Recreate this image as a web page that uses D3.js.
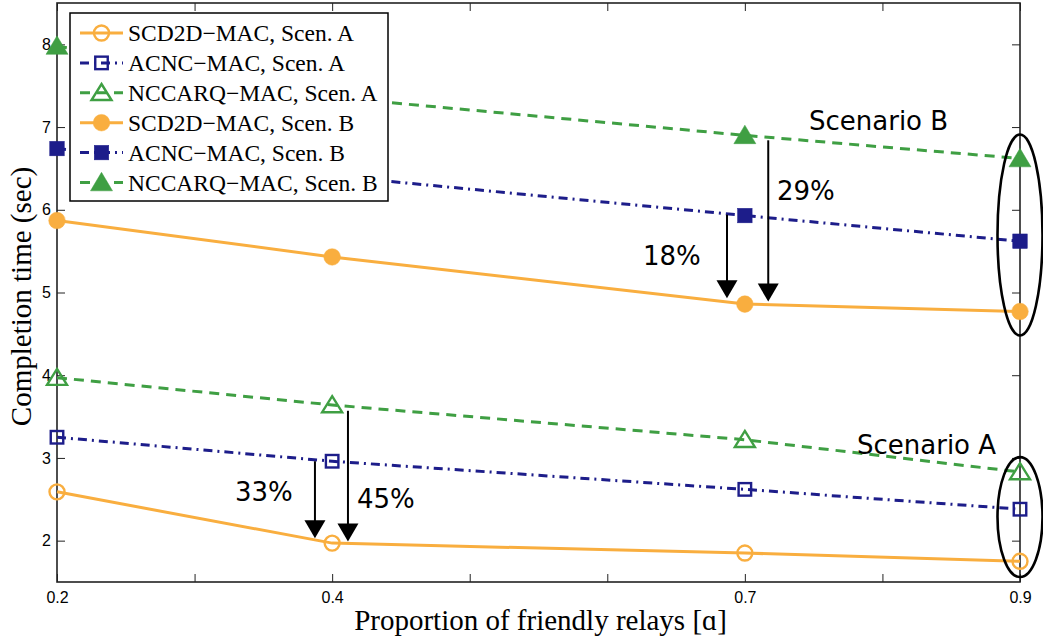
<!DOCTYPE html>
<html>
<head>
<meta charset="utf-8">
<script src="https://cdn.jsdelivr.net/npm/d3@7"></script>
<style>
  html, body { margin: 0; padding: 0; background: #fff; }
  svg { display: block; }
</style>
</head>
<body>
<svg id="chart" width="1043" height="644"></svg>
<script>
// Proportion of friendly relays (x) and completion time in seconds per protocol
const alphas = [0.2, 0.4, 0.7, 0.9];
const scd2dA  = [2.59, 1.97, 1.85, 1.75];
const acncA   = [3.25, 2.96, 2.62, 2.38];
const nccarqA = [3.97, 3.64, 3.22, 2.83];
const scd2dB  = [5.87, 5.43, 4.86, 4.77];
const acncB   = [6.74, 6.41, 5.93, 5.62];
const nccarqB = [7.98, 7.36, 6.90, 6.62];

const xTickLabels = [0.2, 0.4, 0.7, 0.9];
const xMinorTicks = [0.2, 0.3, 0.4, 0.5, 0.6, 0.7, 0.8, 0.9];
const yTicks = [2, 3, 4, 5, 6, 7, 8];

// Reduction arrows: x position, from value, to value, label
const arrowX    = [0.3875, 0.4115, 0.687, 0.717];
const arrowFrom = [2.96, 3.57, 5.94, 6.84];
const arrowTo   = [2.03, 1.99, 4.93, 4.89];
const arrowText = ["33%", "45%", "18%", "29%"];

const colors = { scd: "#F9AE3F", acnc: "#1D1D8A", nccarq: "#3F9F43" };

const series = [
  { name: "SCD2D\u2212MAC, Scen. A",  values: scd2dA,  color: colors.scd,    dash: null,        marker: "circle",   filled: false },
  { name: "ACNC\u2212MAC, Scen. A",   values: acncA,   color: colors.acnc,   dash: "9,5,2,5",   marker: "square",   filled: false },
  { name: "NCCARQ\u2212MAC, Scen. A", values: nccarqA, color: colors.nccarq, dash: "10,7",      marker: "triangle", filled: false },
  { name: "SCD2D\u2212MAC, Scen. B",  values: scd2dB,  color: colors.scd,    dash: null,        marker: "circle",   filled: true },
  { name: "ACNC\u2212MAC, Scen. B",   values: acncB,   color: colors.acnc,   dash: "9,5,2,5",   marker: "square",   filled: true },
  { name: "NCCARQ\u2212MAC, Scen. B", values: nccarqB, color: colors.nccarq, dash: "10,7",      marker: "triangle", filled: true }
];

const svg = d3.select("#chart");
const plotL = 57, plotR = 1020, plotT = 3, plotB = 582;

const x = d3.scaleLinear().domain([0.2, 0.9]).range([plotL, plotR]);
const y = d3.scaleLinear().domain([1.5, 8.5]).range([plotB, plotT]);

const serif = "'Liberation Serif', 'Times New Roman', serif";
const sans  = "'Liberation Sans', Arial, sans-serif";
const annot = "'DejaVu Sans', Verdana, sans-serif";

// Axes: ticks point inward on all four sides
const tickLen = 8;
svg.append("g").attr("transform", `translate(0,${plotB})`)
  .call(d3.axisBottom(x).tickValues(xMinorTicks).tickSizeInner(-tickLen).tickSizeOuter(0)
    .tickFormat(d => xTickLabels.some(v => Math.abs(v - d) < 1e-9) ? d3.format(".1f")(d) : ""))
  .call(g => g.select(".domain").remove())
  .call(g => g.selectAll("line").attr("stroke", "#222").attr("stroke-width", 1))
  .call(g => g.selectAll("text").attr("font-family", sans).attr("font-size", 16).attr("fill", "#000").attr("dy", "1.15em"));

svg.append("g").attr("transform", `translate(0,${plotT})`)
  .call(d3.axisTop(x).tickValues(xMinorTicks).tickSizeInner(-tickLen).tickSizeOuter(0).tickFormat(""))
  .call(g => g.select(".domain").remove())
  .call(g => g.selectAll("line").attr("stroke", "#222").attr("stroke-width", 1));

svg.append("g").attr("transform", `translate(${plotL},0)`)
  .call(d3.axisLeft(y).tickValues(yTicks).tickSizeInner(-tickLen).tickSizeOuter(0).tickPadding(6).tickFormat(d3.format("d")))
  .call(g => g.select(".domain").remove())
  .call(g => g.selectAll("line").attr("stroke", "#222").attr("stroke-width", 1))
  .call(g => g.selectAll("text").attr("font-family", sans).attr("font-size", 16).attr("fill", "#000"));

svg.append("g").attr("transform", `translate(${plotR},0)`)
  .call(d3.axisRight(y).tickValues(yTicks).tickSizeInner(-tickLen).tickSizeOuter(0).tickFormat(""))
  .call(g => g.select(".domain").remove())
  .call(g => g.selectAll("line").attr("stroke", "#222").attr("stroke-width", 1));

svg.append("rect")
  .attr("x", plotL).attr("y", plotT).attr("width", plotR - plotL).attr("height", plotB - plotT)
  .attr("fill", "none").attr("stroke", "#222").attr("stroke-width", 1.6);

// Marker drawing helper
function drawMarker(g, kind, filled, color, cx, cy) {
  const sw = 2.4;
  if (kind === "circle") {
    g.append("circle").attr("cx", cx).attr("cy", cy).attr("r", filled ? 8.3 : 7.5)
      .attr("fill", filled ? color : "none").attr("stroke", color).attr("stroke-width", filled ? 0.5 : sw);
  } else if (kind === "square") {
    const s = filled ? 14.5 : 12.5;
    g.append("rect").attr("x", cx - s / 2).attr("y", cy - s / 2).attr("width", s).attr("height", s)
      .attr("fill", filled ? color : "none").attr("stroke", color).attr("stroke-width", filled ? 0.5 : sw);
  } else {
    const w = filled ? 22 : 20, h = filled ? 18.5 : 16;
    const pts = [[cx, cy - h * 0.55], [cx + w / 2, cy + h * 0.45], [cx - w / 2, cy + h * 0.45]];
    g.append("path").attr("d", d3.line()(pts) + "Z")
      .attr("fill", filled ? color : "none").attr("stroke", color).attr("stroke-width", filled ? 0.5 : sw)
      .attr("stroke-linejoin", "miter");
  }
}

// Series lines and markers
const plot = svg.append("g");
const line = d3.line().x((d, i) => x(alphas[i])).y(d => y(d));
series.forEach(s => {
  plot.append("path").datum(s.values).attr("d", line)
    .attr("fill", "none").attr("stroke", s.color).attr("stroke-width", 3)
    .attr("stroke-dasharray", s.dash);
  s.values.forEach((v, i) => drawMarker(plot, s.marker, s.filled, s.color, x(alphas[i]), y(v)));
});

// Reduction arrows
const ann = svg.append("g");
arrowX.forEach((a, i) => {
  const ax = x(a), y0 = y(arrowFrom[i]), y1 = y(arrowTo[i]);
  const hw = 10.5, hh = 18;
  ann.append("line").attr("x1", ax).attr("x2", ax).attr("y1", y0).attr("y2", y1 - hh + 2)
    .attr("stroke", "#000").attr("stroke-width", 2);
  ann.append("path").attr("d", d3.line()([[ax - hw, y1 - hh], [ax + hw, y1 - hh], [ax, y1]]) + "Z")
    .attr("fill", "#000");
});

// Percentage labels next to the arrows
const labelPos = [[235, 501], [357, 508], [643, 265], [777, 200]];
arrowText.forEach((t, i) => {
  ann.append("text").attr("x", labelPos[i][0]).attr("y", labelPos[i][1])
    .attr("font-family", annot).attr("font-size", 26).attr("fill", "#000").text(t);
});

// Scenario groupings around the 0.9 points
const ellipses = [
  { yTop: 6.91, yBottom: 4.48, label: "Scenario B", lx: 809, ly: 130 },
  { yTop: 3.01, yBottom: 1.56, label: "Scenario A", lx: 857, ly: 454 }
];
ellipses.forEach(e => {
  const yt = y(e.yTop), yb = y(e.yBottom);
  ann.append("ellipse").attr("cx", x(0.9)).attr("cy", (yt + yb) / 2)
    .attr("rx", 22.5).attr("ry", (yb - yt) / 2)
    .attr("fill", "none").attr("stroke", "#000").attr("stroke-width", 2.6);
  ann.append("text").attr("x", e.lx).attr("y", e.ly)
    .attr("font-family", annot).attr("font-size", 26).attr("fill", "#000").text(e.label);
});

// Legend
const lg = svg.append("g");
lg.append("rect").attr("x", 70).attr("y", 13).attr("width", 318).attr("height", 188)
  .attr("fill", "#fff").attr("stroke", "#000").attr("stroke-width", 1.5);
series.forEach((s, i) => {
  const ly = 33 + i * 29.9;
  lg.append("line").attr("x1", 80).attr("x2", 123).attr("y1", ly).attr("y2", ly)
    .attr("stroke", s.color).attr("stroke-width", 3).attr("stroke-dasharray", s.dash);
  drawMarker(lg, s.marker, s.filled, s.color, 101.5, ly);
  lg.append("text").attr("x", 128).attr("y", ly + 8)
    .attr("font-family", serif).attr("font-size", 23.5).attr("fill", "#000").text(s.name);
});

// Axis titles
svg.append("text").attr("x", (plotL + plotR) / 2 + 2).attr("y", 630)
  .attr("text-anchor", "middle").attr("font-family", serif).attr("font-size", 29).attr("fill", "#000")
  .text("Proportion of friendly relays [\u0251]");
svg.append("text").attr("transform", `translate(31,${(plotT + plotB) / 2 + 4}) rotate(-90)`)
  .attr("text-anchor", "middle").attr("font-family", serif).attr("font-size", 29).attr("fill", "#000")
  .text("Completion time (sec)");
</script>
</body>
</html>
